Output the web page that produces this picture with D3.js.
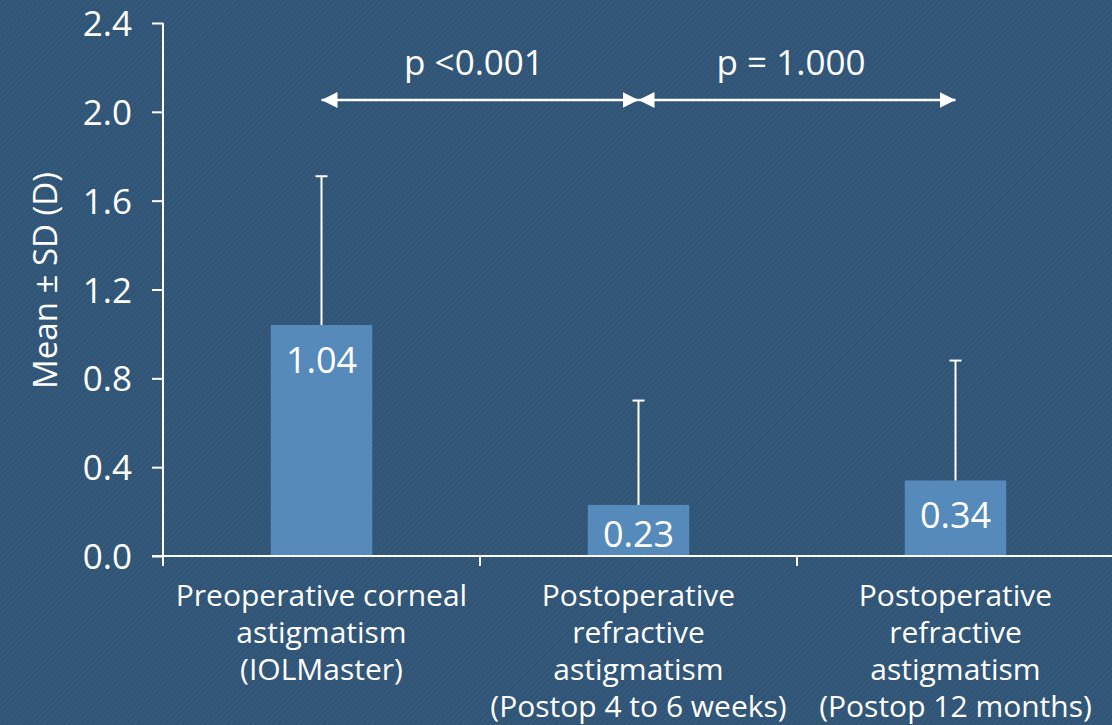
<!DOCTYPE html>
<html>
<head>
<meta charset="utf-8">
<script src="https://cdn.jsdelivr.net/npm/d3@7"></script>
<style>
  html, body { margin: 0; padding: 0; background: #33587a; }
  svg { display: block; font-family: "Open Sans", "Noto Sans", sans-serif; }
</style>
</head>
<body>
<svg id="chart" width="1112" height="725"></svg>
<script>
// Astigmatism before and after surgery (mean ± SD, dioptres)
const categories = [
  ["Preoperative corneal", "astigmatism", "(IOLMaster)"],
  ["Postoperative", "refractive", "astigmatism", "(Postop 4 to 6 weeks)"],
  ["Postoperative", "refractive", "astigmatism", "(Postop 12 months)"]
];
const meanValues = [1.04, 0.23, 0.34];
const sdValues = [0.67, 0.47, 0.54];
const yTicks = [0.0, 0.4, 0.8, 1.2, 1.6, 2.0, 2.4];
const comparisons = [
  { from: 0, to: 1, label: "p <0.001" },
  { from: 1, to: 2, label: "p = 1.000" }
];

const svg = d3.select("#chart");
const W = 1112, H = 725;
const margin = { left: 163, right: -2, top: 23, bottom: 169 };

// striped backdrop
const defs = svg.append("defs");
const pat = defs.append("pattern")
  .attr("id", "stripes")
  .attr("width", 4).attr("height", 4)
  .attr("patternUnits", "userSpaceOnUse")
  .attr("patternTransform", "rotate(45)");
pat.append("rect").attr("width", 4).attr("height", 4).attr("fill", "#34597b");
pat.append("rect").attr("width", 1.3).attr("height", 4).attr("fill", "#2d5172");
svg.append("rect").attr("width", W).attr("height", H).attr("fill", "url(#stripes)");

const idx = d3.range(categories.length);
const x = d3.scaleBand().domain(idx).range([margin.left, W - margin.right]).padding(0);
const y = d3.scaleLinear().domain([0, 2.4]).range([H - margin.bottom, margin.top]);

const white = "#ffffff";
const barW = x.bandwidth() * 0.32;
const cx = i => x(i) + x.bandwidth() / 2;

// bars
svg.append("g").selectAll("rect")
  .data(meanValues)
  .join("rect")
  .attr("x", (d, i) => cx(i) - barW / 2)
  .attr("y", d => y(d))
  .attr("width", barW)
  .attr("height", d => y(0) - y(d))
  .attr("fill", "#568aba");

// upper error whiskers
const eb = svg.append("g").attr("stroke", white).attr("stroke-width", 2);
meanValues.forEach((m, i) => {
  const top = y(m + sdValues[i]);
  eb.append("line").attr("x1", cx(i)).attr("x2", cx(i)).attr("y1", y(m)).attr("y2", top);
  eb.append("line").attr("x1", cx(i) - 6).attr("x2", cx(i) + 6).attr("y1", top).attr("y2", top);
});

// value labels inside bars
svg.append("g").selectAll("text")
  .data(meanValues)
  .join("text")
  .attr("x", (d, i) => cx(i))
  .attr("y", d => Math.min(y(d) + 48, y(0) - 9))
  .attr("text-anchor", "middle")
  .attr("fill", white)
  .attr("font-size", 36)
  .text(d => d.toFixed(2));

// y axis
const yAxis = d3.axisLeft(y).tickValues(yTicks).tickFormat(d3.format(".1f")).tickSize(11).tickSizeOuter(0).tickPadding(20);
const gy = svg.append("g").attr("transform", `translate(${margin.left},0)`).call(yAxis);
gy.select(".domain").attr("stroke", white).attr("stroke-width", 2)
  .attr("d", `M0,${margin.top}V${y(0) + 10}`);
gy.selectAll(".tick line").attr("stroke", white).attr("stroke-width", 2);
gy.selectAll(".tick text").attr("fill", white).attr("font-size", 35)
  .attr("font-family", "'Open Sans', sans-serif").attr("dy", "0.36em");

// x axis with ticks on category boundaries
const xEdges = idx.map(i => x(i)).concat([x(idx[idx.length - 1]) + x.bandwidth()]);
const gx = svg.append("g").attr("stroke", white).attr("stroke-width", 2);
gx.append("line").attr("x1", margin.left - 11).attr("x2", W).attr("y1", y(0)).attr("y2", y(0));
gx.selectAll("line.t").data(xEdges.slice(1)).join("line").attr("class", "t")
  .attr("x1", d => d).attr("x2", d => d).attr("y1", y(0)).attr("y2", y(0) + 10);

// category labels
const cl = svg.append("g").attr("fill", white).attr("font-size", 30).attr("text-anchor", "middle");
categories.forEach((lines, i) => {
  const t = cl.append("text").attr("x", cx(i)).attr("y", y(0) + 50);
  lines.forEach((ln, k) => {
    t.append("tspan").attr("x", cx(i)).attr("dy", k === 0 ? 0 : 37).text(ln);
  });
});

// y axis title
svg.append("text")
  .attr("transform", `translate(57,${(margin.top + y(0)) / 2 - 9}) rotate(-90)`)
  .attr("text-anchor", "middle")
  .attr("fill", white)
  .attr("font-size", 33)
  .text("Mean \u00b1 SD (D)");

// significance arrows
defs.append("marker")
  .attr("id", "head")
  .attr("viewBox", "0 0 16 16")
  .attr("refX", 16).attr("refY", 8)
  .attr("markerWidth", 16).attr("markerHeight", 16)
  .attr("markerUnits", "userSpaceOnUse")
  .attr("orient", "auto-start-reverse")
  .append("path").attr("d", "M0,0L16,8L0,16Z").attr("fill", white);

const arrowY = 100;
const cmp = svg.append("g");
comparisons.forEach(c => {
  const x1 = cx(c.from), x2 = cx(c.to);
  cmp.append("line")
    .attr("x1", x1).attr("x2", x2).attr("y1", arrowY).attr("y2", arrowY)
    .attr("stroke", white).attr("stroke-width", 2.5)
    .attr("marker-start", "url(#head)").attr("marker-end", "url(#head)");
  cmp.append("text")
    .attr("x", (x1 + x2) / 2 - 6).attr("y", 75)
    .attr("text-anchor", "middle").attr("fill", white).attr("font-size", 35)
    .text(c.label);
});
</script>
</body>
</html>
